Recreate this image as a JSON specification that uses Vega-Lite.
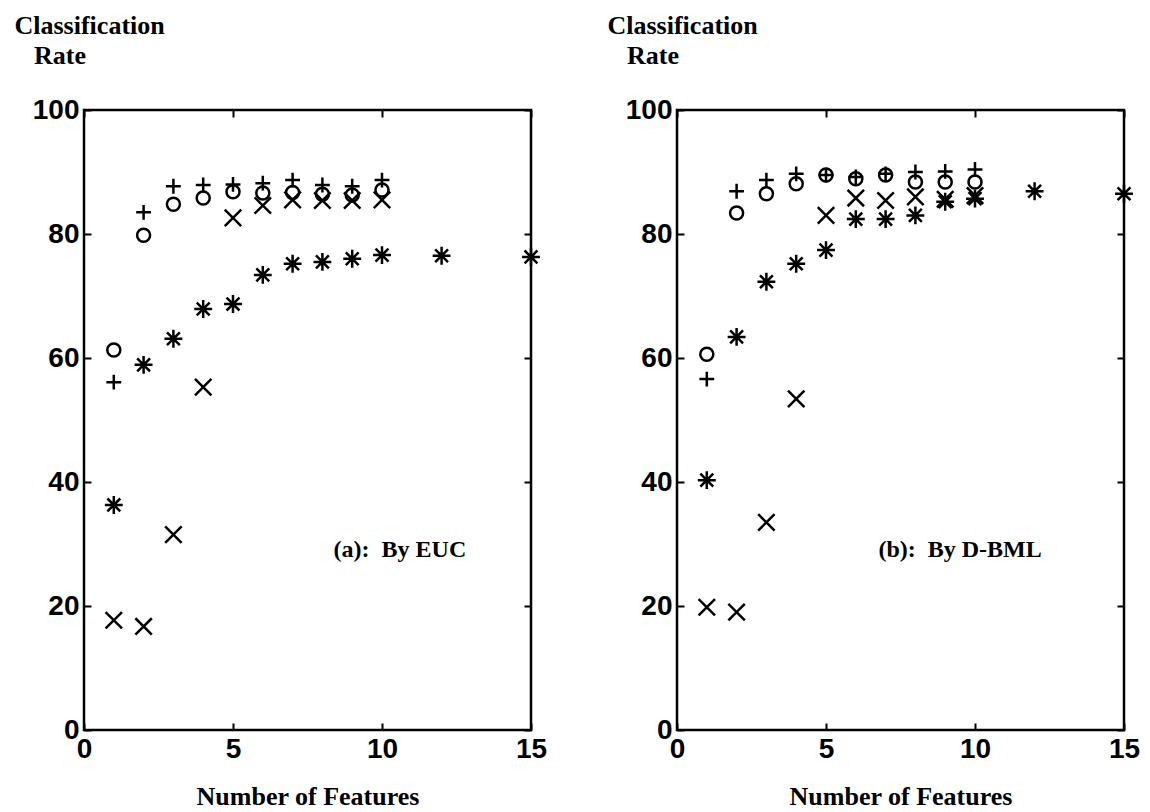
{
  "$schema": "https://vega.github.io/schema/vega-lite/v6.json",
  "padding": {"left": 12, "top": 10, "right": 0, "bottom": 0},
  "background": "white",
  "bounds": "flush",
  "spacing": 146,
  "config": {
    "view": {"stroke": "black", "strokeWidth": 2.5},
    "axis": {
      "domain": false,
      "grid": false,
      "tickColor": "black",
      "tickSize": -7,
      "tickWidth": 2,
      "labelFont": "Liberation Sans",
      "labelFontWeight": "bold",
      "labelFontSize": 28,
      "labelColor": "black",
      "titleFont": "Liberation Serif",
      "titleFontWeight": "bold",
      "titleFontSize": 26,
      "titleColor": "black"
    }
  },
  "datasets": {
    "euc": [
      {"n": 1, "rate": 61.3, "m": "o"}, {"n": 2, "rate": 79.8, "m": "o"}, {"n": 3, "rate": 84.8, "m": "o"}, {"n": 4, "rate": 85.8, "m": "o"}, {"n": 5, "rate": 86.8, "m": "o"}, {"n": 6, "rate": 86.6, "m": "o"}, {"n": 7, "rate": 86.7, "m": "o"}, {"n": 8, "rate": 86.4, "m": "o"}, {"n": 9, "rate": 86.3, "m": "o"}, {"n": 10, "rate": 87.1, "m": "o"},
      {"n": 1, "rate": 56.1, "m": "+"}, {"n": 2, "rate": 83.5, "m": "+"}, {"n": 3, "rate": 87.7, "m": "+"}, {"n": 4, "rate": 87.9, "m": "+"}, {"n": 5, "rate": 88.0, "m": "+"}, {"n": 6, "rate": 88.2, "m": "+"}, {"n": 7, "rate": 88.7, "m": "+"}, {"n": 8, "rate": 87.9, "m": "+"}, {"n": 9, "rate": 87.7, "m": "+"}, {"n": 10, "rate": 88.7, "m": "+"},
      {"n": 1, "rate": 17.7, "m": "x"}, {"n": 2, "rate": 16.7, "m": "x"}, {"n": 3, "rate": 31.5, "m": "x"}, {"n": 4, "rate": 55.3, "m": "x"}, {"n": 5, "rate": 82.6, "m": "x"}, {"n": 6, "rate": 84.6, "m": "x"}, {"n": 7, "rate": 85.5, "m": "x"}, {"n": 8, "rate": 85.4, "m": "x"}, {"n": 9, "rate": 85.4, "m": "x"}, {"n": 10, "rate": 85.5, "m": "x"},
      {"n": 1, "rate": 36.3, "m": "*"}, {"n": 2, "rate": 58.9, "m": "*"}, {"n": 3, "rate": 63.1, "m": "*"}, {"n": 4, "rate": 67.9, "m": "*"}, {"n": 5, "rate": 68.7, "m": "*"}, {"n": 6, "rate": 73.4, "m": "*"}, {"n": 7, "rate": 75.2, "m": "*"}, {"n": 8, "rate": 75.5, "m": "*"}, {"n": 9, "rate": 76.0, "m": "*"}, {"n": 10, "rate": 76.6, "m": "*"}, {"n": 12, "rate": 76.5, "m": "*"}, {"n": 15, "rate": 76.3, "m": "*"}
    ],
    "dbml": [
      {"n": 1, "rate": 60.6, "m": "o"}, {"n": 2, "rate": 83.4, "m": "o"}, {"n": 3, "rate": 86.5, "m": "o"}, {"n": 4, "rate": 88.1, "m": "o"}, {"n": 5, "rate": 89.5, "m": "o"}, {"n": 6, "rate": 88.9, "m": "o"}, {"n": 7, "rate": 89.5, "m": "o"}, {"n": 8, "rate": 88.4, "m": "o"}, {"n": 9, "rate": 88.4, "m": "o"}, {"n": 10, "rate": 88.4, "m": "o"},
      {"n": 1, "rate": 56.6, "m": "+"}, {"n": 2, "rate": 86.9, "m": "+"}, {"n": 3, "rate": 88.7, "m": "+"}, {"n": 4, "rate": 89.7, "m": "+"}, {"n": 5, "rate": 89.5, "m": "+"}, {"n": 6, "rate": 89.2, "m": "+"}, {"n": 7, "rate": 89.7, "m": "+"}, {"n": 8, "rate": 90.0, "m": "+"}, {"n": 9, "rate": 90.1, "m": "+"}, {"n": 10, "rate": 90.4, "m": "+"},
      {"n": 1, "rate": 19.8, "m": "x"}, {"n": 2, "rate": 19.0, "m": "x"}, {"n": 3, "rate": 33.5, "m": "x"}, {"n": 4, "rate": 53.4, "m": "x"}, {"n": 5, "rate": 83.0, "m": "x"}, {"n": 6, "rate": 85.8, "m": "x"}, {"n": 7, "rate": 85.4, "m": "x"}, {"n": 8, "rate": 86.0, "m": "x"}, {"n": 9, "rate": 85.6, "m": "x"}, {"n": 10, "rate": 86.2, "m": "x"},
      {"n": 1, "rate": 40.3, "m": "*"}, {"n": 2, "rate": 63.4, "m": "*"}, {"n": 3, "rate": 72.3, "m": "*"}, {"n": 4, "rate": 75.2, "m": "*"}, {"n": 5, "rate": 77.4, "m": "*"}, {"n": 6, "rate": 82.4, "m": "*"}, {"n": 7, "rate": 82.4, "m": "*"}, {"n": 8, "rate": 83.0, "m": "*"}, {"n": 9, "rate": 85.2, "m": "*"}, {"n": 10, "rate": 85.7, "m": "*"}, {"n": 12, "rate": 86.9, "m": "*"}, {"n": 15, "rate": 86.5, "m": "*"}
    ],
    "labA": [{"n": 10.6, "rate": 29, "t": "(a):\u00a0 By EUC"}],
    "labB": [{"n": 9.5, "rate": 29, "t": "(b):\u00a0 By D-BML"}]
  },
  "hconcat": [
    {
      "width": 447,
      "height": 620,
      "resolve": {"axis": {"x": "independent", "y": "independent"}},
      "layer": [
        {
          "data": {"name": "euc"},
          "mark": {"type": "point", "filled": false, "stroke": "black", "strokeWidth": 2.5, "clip": false, "opacity": 1},
          "encoding": {
            "x": {"field": "n", "type": "quantitative", "scale": {"domain": [0, 15], "nice": false},
              "axis": {"orient": "bottom", "values": [0, 5, 10, 15], "labelPadding": 12, "labelBaseline": "top", "labelFlush": false, "title": "Number of Features", "titleY": 74, "titleBaseline": "alphabetic"}},
            "y": {"field": "rate", "type": "quantitative", "scale": {"domain": [0, 100], "nice": false},
              "axis": {"orient": "left", "values": [0, 20, 40, 60, 80, 100], "labelPadding": 12, "labelFlush": false, "title": ["Classification", "\u200b\u00a0\u00a0\u00a0Rate"], "titleAngle": 0, "titleAlign": "left", "titleBaseline": "top", "titleX": -70, "titleY": -98, "titleLineHeight": 30}},
            "shape": {"field": "m", "type": "nominal", "legend": null,
              "scale": {"domain": ["o", "+", "x", "*"], "range": ["circle", "M-1,0H1M0,-1V1", "M-1,-1L1,1M-1,1L1,-1", "M-1,0H1M0,-1V1M-0.72,-0.72L0.72,0.72M-0.72,0.72L0.72,-0.72"]}},
            "size": {"field": "m", "type": "nominal", "legend": null,
              "scale": {"domain": ["o", "+", "x", "*"], "range": [170, 320, 360, 320]}}
          }
        },
        {
          "data": {"name": "labA"},
          "mark": {"type": "text", "font": "Liberation Serif", "fontWeight": "bold", "fontSize": 24, "color": "black", "align": "center", "baseline": "middle"},
          "encoding": {
            "x": {"field": "n", "type": "quantitative", "axis": {"orient": "top", "values": [0, 5, 10, 15], "labels": false, "title": null}},
            "y": {"field": "rate", "type": "quantitative", "axis": {"orient": "right", "values": [0, 20, 40, 60, 80, 100], "labels": false, "title": null}},
            "text": {"field": "t"}
          }
        }
      ]
    },
    {
      "width": 447,
      "height": 620,
      "resolve": {"axis": {"x": "independent", "y": "independent"}},
      "layer": [
        {
          "data": {"name": "dbml"},
          "mark": {"type": "point", "filled": false, "stroke": "black", "strokeWidth": 2.5, "clip": false, "opacity": 1},
          "encoding": {
            "x": {"field": "n", "type": "quantitative", "scale": {"domain": [0, 15], "nice": false},
              "axis": {"orient": "bottom", "values": [0, 5, 10, 15], "labelPadding": 12, "labelBaseline": "top", "labelFlush": false, "title": "Number of Features", "titleY": 74, "titleBaseline": "alphabetic"}},
            "y": {"field": "rate", "type": "quantitative", "scale": {"domain": [0, 100], "nice": false},
              "axis": {"orient": "left", "values": [0, 20, 40, 60, 80, 100], "labelPadding": 12, "labelFlush": false, "title": ["Classification", "\u200b\u00a0\u00a0\u00a0Rate"], "titleAngle": 0, "titleAlign": "left", "titleBaseline": "top", "titleX": -70, "titleY": -98, "titleLineHeight": 30}},
            "shape": {"field": "m", "type": "nominal", "legend": null,
              "scale": {"domain": ["o", "+", "x", "*"], "range": ["circle", "M-1,0H1M0,-1V1", "M-1,-1L1,1M-1,1L1,-1", "M-1,0H1M0,-1V1M-0.72,-0.72L0.72,0.72M-0.72,0.72L0.72,-0.72"]}},
            "size": {"field": "m", "type": "nominal", "legend": null,
              "scale": {"domain": ["o", "+", "x", "*"], "range": [170, 320, 360, 320]}}
          }
        },
        {
          "data": {"name": "labB"},
          "mark": {"type": "text", "font": "Liberation Serif", "fontWeight": "bold", "fontSize": 24, "color": "black", "align": "center", "baseline": "middle"},
          "encoding": {
            "x": {"field": "n", "type": "quantitative", "axis": {"orient": "top", "values": [0, 5, 10, 15], "labels": false, "title": null}},
            "y": {"field": "rate", "type": "quantitative", "axis": {"orient": "right", "values": [0, 20, 40, 60, 80, 100], "labels": false, "title": null}},
            "text": {"field": "t"}
          }
        }
      ]
    }
  ]
}
